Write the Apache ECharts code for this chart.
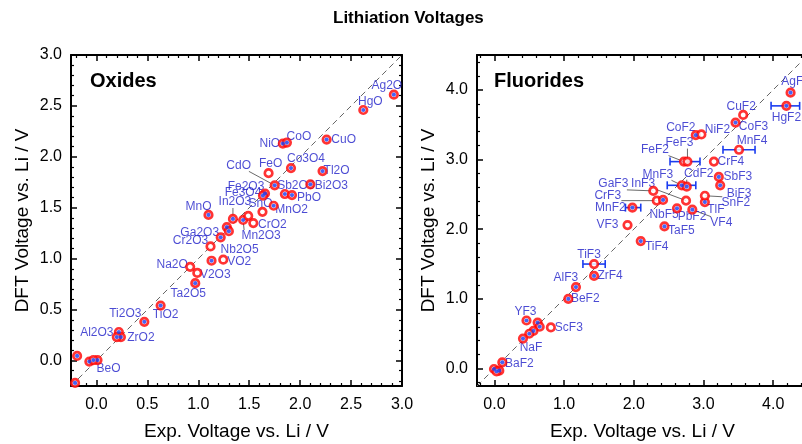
<!DOCTYPE html>
<html><head><meta charset="utf-8">
<script src="https://cdn.jsdelivr.net/npm/echarts@6/dist/echarts.min.js"></script>
<style>html,body{margin:0;padding:0;background:#fff}#c{width:802px;height:444px}</style>
</head><body><div id="c"></div>
<script>
// ---------------- data ----------------
const oxideNames  = ['Ag2O','HgO','CuO','NiO','CoO','FeO','CdO','Co3O4','Tl2O','Bi2O3','Sb2O3','PbO','Fe2O3','Fe3O4','MnO2','SnO','In2O3','Mn2O3','','CrO2','','','MnO','Ga2O3','Cr2O3','Nb2O5','VO2','Na2O','V2O3','Ta2O5','TiO2','Ti2O3','Al2O3','ZrO2','','','BeO','','',''];
const oxideExp    = [2.92,2.62,2.26,1.83,1.87,1.69,1.75,1.91,2.22,2.10,1.85,1.92,1.655,1.635,1.74,1.63,1.34,1.44,1.49,1.54,1.28,1.30,1.10,1.22,1.12,1.13,1.245,0.92,0.99,0.97,0.63,0.47,0.22,0.24,0.20,-0.19,0.01,-0.07,-0.03,-0.21];
const oxideDft    = [2.61,2.46,2.17,2.13,2.14,1.84,1.72,1.89,1.86,1.73,1.635,1.625,1.64,1.62,1.52,1.46,1.39,1.38,1.42,1.35,1.31,1.27,1.43,1.21,1.12,0.98,0.99,0.92,0.86,0.76,0.54,0.38,0.28,0.23,0.23,0.045,0.005,-0.01,0.005,-0.22];
const oxideOpen   = [0,0,0,0,0,1,0,0,0,0,0,0,0,0,0,1,0,0,1,1,0,0,0,0,1,0,1,1,1,0,0,0,0,0,0,0,0,0,0,0];

const fluorideNames = ['AgF2','HgF2','CuF2','CoF3','CoF2','NiF2','MnF4','FeF2','FeF3','CrF4','SbF3','BiF3','MnF3','CdF2','GaF3','CrF3','InF3','NbF5','PbF2','VF4','TlF','SnF2','MnF2','VF3','TaF5','TiF4','TiF3','ZrF4','AlF3','BeF2','YF3','','','ScF3','','','NaF','BaF2','','',''];
const fluorideExp   = [4.25,4.19,3.57,3.46,2.89,2.97,3.51,2.72,2.77,3.15,3.22,3.24,2.69,2.76,2.28,2.33,2.75,2.42,2.62,2.84,3.02,3.02,1.98,1.91,2.44,2.10,1.43,1.43,1.17,1.06,0.46,0.62,0.65,0.81,0.56,0.50,0.41,0.113,-0.006,0.07,0.03];
const fluorideDft   = [3.96,3.77,3.64,3.53,3.35,3.36,3.14,2.97,2.97,2.97,2.75,2.63,2.63,2.61,2.55,2.41,2.41,2.42,2.30,2.28,2.39,2.48,2.31,2.06,2.04,1.83,1.50,1.33,1.17,1.00,0.69,0.66,0.60,0.59,0.54,0.50,0.43,0.09,-0.006,-0.03,-0.04];
const fluorideOpen  = [0,0,1,0,0,1,1,1,1,1,0,0,0,0,1,1,1,0,0,0,0,1,0,1,0,0,1,0,0,0,0,0,0,1,0,0,0,0,0,0,0];
// horizontal experimental error bars (low, high) on some fluorides
const fluorideErrLo = {HgF2:3.97, MnF4:3.28, FeF2:2.52, MnF3:2.48, MnF2:1.88, TiF3:1.27};
const fluorideErrHi = {HgF2:4.38, MnF4:3.74, FeF2:2.95, MnF3:2.89, MnF2:2.10, TiF3:1.59};

const oxideTicks = [0,0.5,1.0,1.5,2.0,2.5,3.0];
const oxideMinor = [-0.2,-0.1,0.1,0.2,0.3,0.4,0.6,0.7,0.8,0.9,1.1,1.2,1.3,1.4,1.6,1.7,1.8,1.9,2.1,2.2,2.3,2.4,2.6,2.7,2.8,2.9];
const fluorideTicks = [0,1,2,3,4];
const fluorideMinor = [-0.2,0.2,0.4,0.6,0.8,1.2,1.4,1.6,1.8,2.2,2.4,2.6,2.8,3.2,3.4,3.6,3.8,4.2,4.4];

// ---------------- label placement (pixel offsets of label centre) ----------------
const oxLab = {
 Ag2O:[-7,-9],HgO:[7,-8],CuO:[17,0],NiO:[-13,0],CoO:[12,-6],FeO:[2,-9],CdO:[-36,-20],Co3O4:[15,-9],
 Tl2O:[14,0],Bi2O3:[21,1],Sb2O3:[11,-8],PbO:[17,3],Fe2O3:[-19,-7],Fe3O4:[-20,-3],MnO2:[18,4],SnO:[-2,-8],
 In2O3:[2,-17],Mn2O3:[18,16],CrO2:[19,2],MnO:[-10,-8],Ga2O3:[-21,-5],Cr2O3:[-20,-6],Nb2O5:[28,-11],
 VO2:[16,2],Na2O:[-18,-2],V2O3:[18,2],Ta2O5:[-7,11],TiO2:[5,9],Ti2O3:[-19,-8],Al2O3:[-22,1],ZrO2:[20,1],BeO:[11,9]
};
const oxLeader = ['CdO','In2O3','Mn2O3'];
const flLab = {
 AgF2:[5,-11],HgF2:[0,12],CuF2:[-2,-8],CoF3:[18,4],CoF2:[-15,-7],NiF2:[16,-5],MnF4:[13,-9],FeF2:[-29,-12],
 FeF3:[-8,-19],CrF4:[17,0],SbF3:[19,0],BiF3:[19,8],MnF3:[-24,-11],CdF2:[12,-13],GaF3:[-40,-7],CrF3:[-49,-5],
 InF3:[-43,-17],NbF5:[1,15],PbF2:[15,8],VF4:[29,13],TlF:[11,8],SnF2:[31,7],MnF2:[-22,0],VF3:[-20,0],
 TaF5:[17,4],TiF4:[16,6],TiF3:[-5,-9],ZrF4:[16,0],AlF3:[-10,-9],BeF2:[17,0],YF3:[-1,-9],ScF3:[18,0],NaF:[8,9],BaF2:[17,1]
};
const flLeader = ['FeF2','FeF3','MnF3','CdF2','GaF3','CrF3','InF3','VF4','SnF2'];

// ---------------- chart ----------------
const FONT = '"Liberation Sans", Arial, Helvetica, sans-serif';
const LABEL_BLUE = '#1e1ec8';
const RED = '#ff0000';
const DOT_BLUE = '#1a3cf0';

function axisSet(dim, grid, min, max, majors, minors) {
  const posA = dim === 'x' ? 'bottom' : 'left';
  const posB = dim === 'x' ? 'top' : 'right';
  const base = {type:'value', gridIndex:grid, min:min, max:max, splitLine:{show:false}, scale:true};
  const line = {show:true, onZero:false, lineStyle:{color:'#000', width:2}};
  const noLine = {show:false, onZero:false};
  const fmt = v => v.toFixed(1);
  const major = Object.assign({}, base, {
    position: posA, axisLine: line,
    axisTick:{show:true, inside:true, length:6, lineStyle:{color:'#000', width:1.5}, customValues: majors},
    axisLabel:{show:true, customValues: majors, formatter: fmt, fontSize:16, color:'#000', fontFamily: FONT, margin: dim==='x' ? 11 : 9},
    name: dim==='x' ? 'Exp. Voltage vs. Li / V' : 'DFT Voltage vs. Li / V',
    nameLocation:'middle', nameGap: dim==='x' ? 36 : 39,
    nameTextStyle:{fontSize:19, color:'#000', fontFamily: FONT}
  });
  const minorA = Object.assign({}, base, {position: posA, axisLine: noLine,
    axisTick:{show:true, inside:true, length:3, lineStyle:{color:'#000', width:1.2}, customValues: minors},
    axisLabel:{show:false}});
  const majorB = Object.assign({}, base, {position: posB, axisLine: line,
    axisTick:{show:true, inside:true, length:6, lineStyle:{color:'#000', width:1.5}, customValues: majors},
    axisLabel:{show:false}});
  const minorB = Object.assign({}, base, {position: posB, axisLine: noLine,
    axisTick:{show:true, inside:true, length:3, lineStyle:{color:'#000', width:1.2}, customValues: minors},
    axisLabel:{show:false}});
  return [major, minorA, majorB, minorB];
}

function panelSeries(ax, names, xs, ys, open, lab, leaders, errLo, errHi, lo, hi) {
  const s = [];
  const axis = {xAxisIndex: ax, yAxisIndex: ax};
  // diagonal y = x
  s.push(Object.assign({type:'line', data:[[lo,lo],[hi,hi]], symbol:'none', silent:true, z:1,
    lineStyle:{color:'#666', width:1, type:[6,4]}}, axis));
  // leader lines from point to its label box
  const ld = [];
  names.forEach((n,i) => { if (n && leaders.indexOf(n) >= 0) ld.push({name:n, value:[xs[i], ys[i]]}); });
  if (ld.length) {
    s.push(Object.assign({type:'custom', data: ld, silent:true, z:2,
      renderItem: function(params, api) {
        const p = api.coord([api.value(0), api.value(1)]);
        const n = ld[params.dataIndex].name;
        const o = lab[n];
        const cx = p[0] + o[0], cy = p[1] + o[1];
        const hw = n.length * 3.4, hh = 6;
        const ex = Math.max(cx - hw, Math.min(p[0], cx + hw));
        const ey = Math.max(cy - hh, Math.min(p[1], cy + hh));
        return {type:'line', shape:{x1:p[0], y1:p[1], x2:ex, y2:ey}, style:{stroke:'#444', lineWidth:0.8}};
      }}, axis));
  }
  // error bars
  const eb = [];
  names.forEach((n,i) => { if (errLo && errLo[n] !== undefined) eb.push([errLo[n], errHi[n], ys[i]]); });
  if (eb.length) {
    s.push(Object.assign({type:'custom', data: eb, silent:true, z:2,
      renderItem: function(params, api) {
        const a = api.coord([api.value(0), api.value(2)]);
        const b = api.coord([api.value(1), api.value(2)]);
        const st = {stroke: DOT_BLUE, lineWidth: 1.6};
        return {type:'group', children:[
          {type:'line', shape:{x1:a[0], y1:a[1], x2:b[0], y2:b[1]}, style:st},
          {type:'line', shape:{x1:a[0], y1:a[1]-4, x2:a[0], y2:a[1]+4}, style:st},
          {type:'line', shape:{x1:b[0], y1:b[1]-4, x2:b[0], y2:b[1]+4}, style:st}
        ]};
      }}, axis));
  }
  const labeled = [], all = [], filled = [];
  names.forEach((n,i) => {
    all.push([xs[i], ys[i]]);
    if (!open[i]) filled.push([xs[i], ys[i]]);
    if (n) labeled.push({name:n, value:[xs[i], ys[i]]});
  });
  const layoutFn = function(p) {
    const o = lab[p.text] || [0,0];
    return {x: p.rect.x + p.rect.width/2 + o[0], y: p.rect.y + p.rect.height/2 + o[1], align:'center', verticalAlign:'middle'};
  };
  s.push(Object.assign({type:'scatter', data: labeled, symbolSize:1, itemStyle:{color:'rgba(0,0,0,0)'}, silent:true, z:3,
    label:{show:true, formatter:'{b}', position:'right', color: LABEL_BLUE, fontSize:12, fontFamily: FONT},
    labelLayout: layoutFn}, axis));
  s.push(Object.assign({type:'scatter', data: all, symbol:'circle', symbolSize:7.5, silent:true, z:4,
    itemStyle:{color:'#fff', borderColor: RED, borderWidth:2.7}}, axis));
  s.push(Object.assign({type:'scatter', data: filled, symbol:'circle', symbolSize:4.2, silent:true, z:5,
    itemStyle:{color: DOT_BLUE}}, axis));
  return s;
}

const xAxes = [].concat(
  axisSet('x', 0, -0.25, 3.0, oxideTicks, oxideMinor),
  axisSet('x', 1, -0.25, 4.5, fluorideTicks, fluorideMinor));
const yAxes = [].concat(
  axisSet('y', 0, -0.25, 3.0, oxideTicks, oxideMinor),
  axisSet('y', 1, -0.25, 4.5, fluorideTicks, fluorideMinor));

const option = {
  animation: false,
  backgroundColor: '#fff',
  title: [
    {text:'Lithiation Voltages', left:333, top:10, padding:0, textStyle:{fontSize:17, fontWeight:'bold', color:'#000', fontFamily: FONT}},
    {text:'Oxides', left:90, top:71, padding:0, textStyle:{fontSize:20, fontWeight:'bold', color:'#000', fontFamily: FONT}},
    {text:'Fluorides', left:494, top:71, padding:0, textStyle:{fontSize:20, fontWeight:'bold', color:'#000', fontFamily: FONT}}
  ],
  grid: [
    {left:71, top:55, width:331, height:331, outerBoundsMode:'none', containLabel:false},
    {left:477, top:55, width:331, height:331, outerBoundsMode:'none', containLabel:false}
  ],
  xAxis: xAxes,
  yAxis: yAxes,
  series: [].concat(
    panelSeries(0, oxideNames, oxideExp, oxideDft, oxideOpen, oxLab, oxLeader, null, null, -0.25, 3.0),
    panelSeries(4, fluorideNames, fluorideExp, fluorideDft, fluorideOpen, flLab, flLeader, fluorideErrLo, fluorideErrHi, -0.25, 4.5))
};
const chart = echarts.init(document.getElementById('c'), null, {renderer:'canvas'});
chart.setOption(option);
</script>
</body></html>
